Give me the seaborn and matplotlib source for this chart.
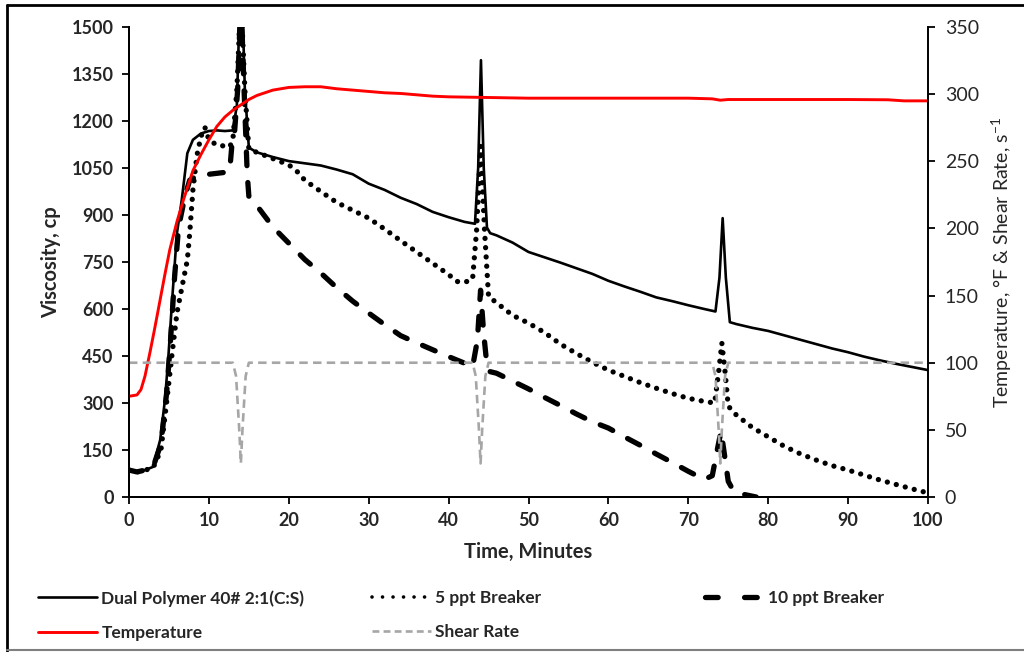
import numpy as np
import pandas as pd
import matplotlib
matplotlib.use("Agg")
import matplotlib.pyplot as plt
import seaborn as sns
from matplotlib.lines import Line2D

# ---------------- data ----------------
dual_t = [0, 1, 2, 3, 3.9, 4.5, 4.9, 5.4, 6.0, 6.6, 7.3, 8.0, 9, 10, 11, 12, 13, 13.5, 13.8, 14.0,
          14.2, 14.5, 15, 16, 18, 20, 22, 24, 26, 28, 30, 32, 34, 36, 38, 40, 42, 43.3, 43.7, 44.05,
          44.4, 44.8, 45.2, 46, 48, 50, 52, 54, 56, 58, 60, 62, 64, 66, 68, 70, 72, 73.4, 73.9, 74.3,
          74.7, 75.2, 76, 78, 80, 82, 84, 86, 88, 90, 92, 94, 96, 98, 100]
dual_v = [86, 78, 86, 96, 182, 310, 437, 629, 842, 948, 1097, 1140, 1160, 1168, 1170, 1168, 1170, 1250, 1520, 1650,
          1560, 1300, 1115, 1100, 1085, 1072, 1065, 1058, 1045, 1030, 1000, 980, 955, 935, 910, 893, 878, 872, 1050, 1394,
          1050, 860, 842, 835, 812, 782, 765, 748, 730, 712, 690, 672, 655, 637, 625, 612, 600, 592, 700, 890,
          700, 558, 552, 540, 530, 516, 502, 488, 474, 462, 448, 436, 425, 415, 405]

brk5_t = [0, 1, 2, 3, 4, 4.7, 5.4, 6.0, 6.8, 7.3, 7.6, 8.0, 8.5, 9.0, 9.5, 10, 11, 12, 12.6, 13, 13.5, 14,
          14.5, 15, 16, 18, 20, 21, 22, 24, 26, 28, 30, 32, 34, 36, 38, 40, 41, 42, 43, 43.5, 44, 44.5,
          45, 46, 48, 50, 52, 54, 56, 58, 60, 62, 64, 66, 68, 70, 72, 73.3, 73.8, 74.2, 74.6, 75, 76,
          78, 80, 82, 84, 86, 88, 90, 92, 94, 96, 98, 100]
brk5_v = [86, 80, 86, 92, 150, 300, 459, 587, 692, 756, 842, 980, 1090, 1150, 1180, 1140, 1123, 1120, 1117, 1140, 1300, 1600,
          1300, 1110, 1100, 1080, 1060, 1040, 1011, 975, 940, 915, 890, 855, 818, 782, 746, 710, 688, 685, 695, 850, 1120, 850,
          640, 620, 580, 555, 525, 488, 458, 430, 405, 385, 365, 347, 330, 315, 305, 300, 400, 491, 400, 290, 262,
          222, 192, 162, 138, 118, 100, 86, 70, 54, 40, 26, 13]

brk10_t = [0, 1, 2, 3, 4, 4.7, 5.2, 5.7, 6.2, 7.0, 7.6, 8.5, 10, 11, 12, 12.6, 12.9, 13.2, 13.6, 14, 14.4,
           14.8, 15.0, 16, 18, 20, 22, 24, 26, 28, 30, 32, 34, 36, 38, 40, 42, 43, 43.6, 44.0, 44.4, 44.8,
           45.2, 46, 48, 50, 52, 54, 56, 58, 60, 62, 64, 66, 68, 70, 72, 73, 73.7, 74.1, 74.5, 75, 75.6,
           77, 78.5]
brk10_v = [86, 80, 86, 94, 170, 330, 500, 700, 860, 960, 1011, 1025, 1030, 1033, 1036, 1040, 1130, 1160, 1300, 1600, 1300,
           1030, 960, 930, 862, 810, 758, 715, 668, 625, 587, 550, 515, 492, 470, 448, 427, 415, 500, 660, 520, 420,
           400, 395, 370, 345, 318, 292, 265, 240, 220, 192, 165, 137, 110, 82, 56, 68, 160, 210, 140, 50, 22,
           8, 0]

temp_t = [0, 1, 1.5, 2, 2.6, 3.2, 3.9, 4.5, 5.1, 6, 6.8, 8, 9, 10, 11, 12, 13, 14, 15, 16, 17, 18, 19, 20,
          22, 24, 26, 28, 30, 32, 34, 36, 38, 40, 45, 50, 55, 60, 65, 70, 73, 74, 75, 80, 85, 90, 95, 97, 100]
temp_v = [75, 76, 80, 90, 107, 125, 147, 166, 184, 205, 221, 243, 255, 266, 276, 283, 288, 292, 296, 299, 301, 303, 304, 305,
          305.5, 305.5, 304, 303, 302, 301, 300.5, 299.5, 298.5, 298, 297.5, 297, 297, 297, 297, 297, 296.5, 295.5, 296, 296, 296, 296, 295.8, 295, 295]

shear_t = [0, 13, 13.4, 13.8, 14, 14.2, 14.6, 15, 43, 43.4, 43.8, 44, 44.2, 44.6, 45, 73, 73.4, 73.8, 74, 74.2, 74.6, 75, 100]
shear_v = [100, 100, 90, 50, 25, 50, 90, 100, 100, 90, 50, 25, 50, 90, 100, 100, 90, 50, 25, 50, 90, 100, 100]

labels = ["Dual Polymer 40# 2:1(C:S)", "5 ppt Breaker", "10 ppt Breaker", "Temperature", "Shear Rate"]
x_ticks = list(range(0, 101, 10))
yl_ticks = list(range(0, 1501, 150))
yr_ticks = list(range(0, 351, 50))

# ---------------- style ----------------
sns.set_theme(style="ticks")
plt.rcParams['font.family'] = ['Lato', 'DejaVu Sans']
plt.rcParams['mathtext.default'] = 'regular'

W, H = 1024, 652
fig = plt.figure(figsize=(W / 100, H / 100), dpi=100)
ax = fig.add_axes([129 / W, 1 - 497 / H, (928 - 129) / W, 470 / H])
ax2 = ax.twinx()

styles = {
    labels[0]: dict(color="black", lw=1.9, ls="-", cap="butt"),
    labels[1]: dict(color="black", lw=3.8, ls=(0, (0.01, 1.75)), cap="round"),
    labels[2]: dict(color="black", lw=3.8, ls=(0, (2.6, 3.2)), cap="round"),
    labels[3]: dict(color="#ff0000", lw=2.1, ls="-", cap="butt"),
    labels[4]: dict(color="#a6a6a6", lw=1.9, ls=(0, (3.2, 2.0)), cap="butt"),
}
legend_styles = {
    labels[0]: dict(lw=1.9, ls="-"),
    labels[1]: dict(lw=2.6, ls=(0, (0.01, 2.9))),
    labels[2]: dict(lw=3.8, ls=(0, (2.4, 5.0))),
    labels[3]: dict(lw=2.1, ls="-"),
    labels[4]: dict(lw=1.9, ls=(0, (2.6, 1.6))),
}

def draw(axis, t, v, name):
    st = styles[name]
    n_before = len(axis.lines)
    sns.lineplot(x=t, y=v, ax=axis, color=st["color"], linewidth=st["lw"],
                 estimator=None, sort=False, legend=False)
    ln = axis.lines[n_before]
    ln.set_linestyle(st["ls"])
    ln.set_dash_capstyle(st["cap"])
    ln.set_solid_capstyle(st["cap"])
    return ln

draw(ax, dual_t, dual_v, labels[0])
draw(ax, brk5_t, brk5_v, labels[1])
draw(ax, brk10_t, brk10_v, labels[2])
draw(ax2, temp_t, temp_v, labels[3])
draw(ax2, shear_t, shear_v, labels[4])

ax.set_xlim(0, 100)
ax.set_ylim(0, 1500)
ax2.set_ylim(0, 350)
ax.set_xticks(x_ticks)
ax.set_yticks(yl_ticks)
ax2.set_yticks(yr_ticks)

for a in (ax, ax2):
    a.spines['top'].set_visible(False)
    for s in a.spines.values():
        s.set_linewidth(1.4)
        s.set_color("black")
    a.tick_params(direction="out", length=5, width=1.3, color="black")
ax.spines['right'].set_visible(False)

ax.tick_params(axis="both", labelsize=13, pad=6)
ax2.tick_params(axis="y", labelsize=14, pad=7)
for lab in ax.get_xticklabels() + ax.get_yticklabels():
    lab.set_fontweight("bold")

ax.set_xlabel("Time, Minutes", fontsize=14.5, fontweight="bold", labelpad=9)
ax.set_ylabel("Viscosity, cp", fontsize=14.5, fontweight="bold", labelpad=8)
ax2.set_ylabel("Temperature, °F & Shear Rate, s$^{-1}$", fontsize=14, labelpad=8)

# ---------------- legend ----------------
def handle(name):
    st = styles[name]
    ls = legend_styles[name]
    h = Line2D([], [], color=st["color"], lw=ls["lw"])
    h.set_linestyle(ls["ls"])
    h.set_dash_capstyle(st["cap"])
    return h

leg_kw = dict(loc="upper left", frameon=False, borderpad=0, borderaxespad=0,
              handlelength=3.4, handletextpad=0.25, labelspacing=1.05,
              prop=dict(family="Lato", weight="bold", size=12.5))
cols = [(38, [labels[0], labels[3]]), (372, [labels[1], labels[4]]), (705, [labels[2]])]
for x0, names in cols:
    fig.legend(handles=[handle(n) for n in names], labels=names,
               bbox_to_anchor=(x0 / W, 1 - 590 / H), **leg_kw)

# ---------------- frame around the figure ----------------
fig.add_artist(Line2D([7 / W, 7 / W], [1 / H, 1 - 5 / H], color="black", lw=2, transform=fig.transFigure))
fig.add_artist(Line2D([7 / W, 1.0], [1 - 5 / H, 1 - 5 / H], color="black", lw=2, transform=fig.transFigure))
fig.add_artist(Line2D([7 / W, 1.0], [2 / H, 2 / H], color="#7f7f7f", lw=1.5, transform=fig.transFigure))

fig.savefig("out.png", dpi=100)
